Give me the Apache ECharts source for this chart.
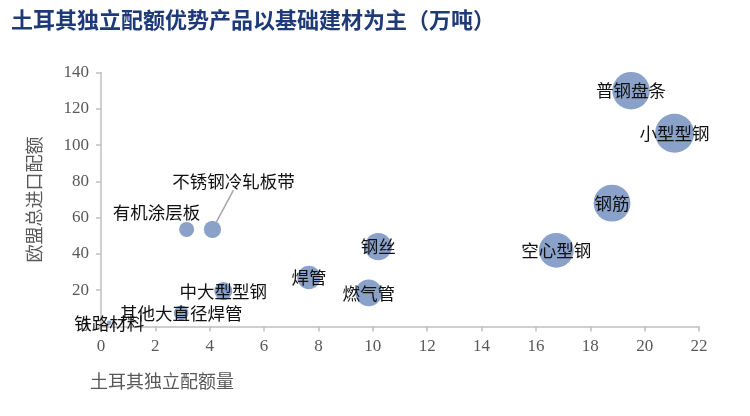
<!DOCTYPE html>
<html><head><meta charset="utf-8">
<script src="https://cdn.jsdelivr.net/npm/echarts@6/dist/echarts.min.js"></script>
<style>html,body{margin:0;padding:0;background:#fff}#c{width:750px;height:416px}</style>
</head><body><div id="c"></div>
<script>
var names = ['普钢盘条','小型型钢','钢筋','空心型钢','钢丝','燃气管','焊管','中大型型钢','其他大直径焊管','铁路材料','有机涂层板','不锈钢冷轧板带'];
var quotaTR = [19.5, 21.1, 18.8, 16.75, 10.2, 9.85, 7.65, 4.5, 2.95, 0.3, 3.15, 4.1];
var importEU = [130, 106.5, 68, 42, 44, 18.5, 27, 19.5, 7.5, 2, 53.5, 53.5];
var xTicks = [0,2,4,6,8,10,12,14,16,18,20,22];
var yTicks = [0,20,40,60,80,100,120,140];

var maxX = Math.max.apply(null, quotaTR);
var data = names.map(function(n,i){
  var item = {name:n, value:[quotaTR[i], importEU[i]]};
  if (n === '不锈钢冷轧板带') {
    item.labelLine = {show:true, lineStyle:{color:'#a6a6a6', width:1.5}};
  }
  return item;
});
var font = '"Liberation Serif","Noto Sans CJK SC",serif';
var cjk = '"Noto Sans CJK SC",sans-serif';
var chart = echarts.init(document.getElementById('c'));
chart.setOption({
  backgroundColor:'#fff',
  animation:false,
  title:{text:'土耳其独立配额优势产品以基础建材为主（万吨）', left:6, top:4,
    textStyle:{color:'#1f3a78', fontSize:22, fontWeight:'bold', fontFamily:cjk}},
  graphic:[{type:'text', left:90, top:372, style:{text:'土耳其独立配额量', fill:'#595959', fontSize:18, fontFamily:cjk}}],
  grid:{left:101, right:51, top:72.5, bottom:89.5, containLabel:false},
  xAxis:{type:'value', min:0, max:22, interval:2,
    axisLine:{show:true, lineStyle:{color:'#bfbfbf', width:1.5}},
    axisTick:{show:true, length:5, lineStyle:{color:'#bfbfbf', width:1.5}},
    splitLine:{show:false},
    axisLabel:{color:'#595959', fontSize:17, fontFamily:font, margin:12,
      formatter:function(v){return xTicks.indexOf(v)>=0? String(v):'';}}
  },
  yAxis:{type:'value', min:0, max:140, interval:20,
    name:'欧盟总进口配额', nameLocation:'middle', nameRotate:90, nameGap:58,
    nameTextStyle:{color:'#595959', fontSize:18, fontFamily:cjk},
    axisLine:{show:true, lineStyle:{color:'#bfbfbf', width:1.5}},
    axisTick:{show:true, length:5, lineStyle:{color:'#bfbfbf', width:1.5}},
    splitLine:{show:false},
    axisLabel:{color:'#595959', fontSize:17, fontFamily:font, margin:12,
      formatter:function(v){return yTicks.indexOf(v)>=0? String(v):'';}}
  },
  series:[{
    type:'scatter',
    data:data,
    symbolSize:function(v){return 39*Math.sqrt(v[0]/maxX);},
    itemStyle:{color:'#8aa1c9', opacity:1},
    label:{show:true, position:'inside', formatter:'{b}', color:'#111', fontSize:17.5,
      fontFamily:cjk},
    labelLine:{show:false},
    labelLayout:function(p){
      if (p.dataIndex===10) return {dx:-30, dy:-17};
      if (p.dataIndex===11) return {dx:21, dy:-48};
      return {};
    },
    emphasis:{disabled:true}
  }]
});
</script></body></html>
